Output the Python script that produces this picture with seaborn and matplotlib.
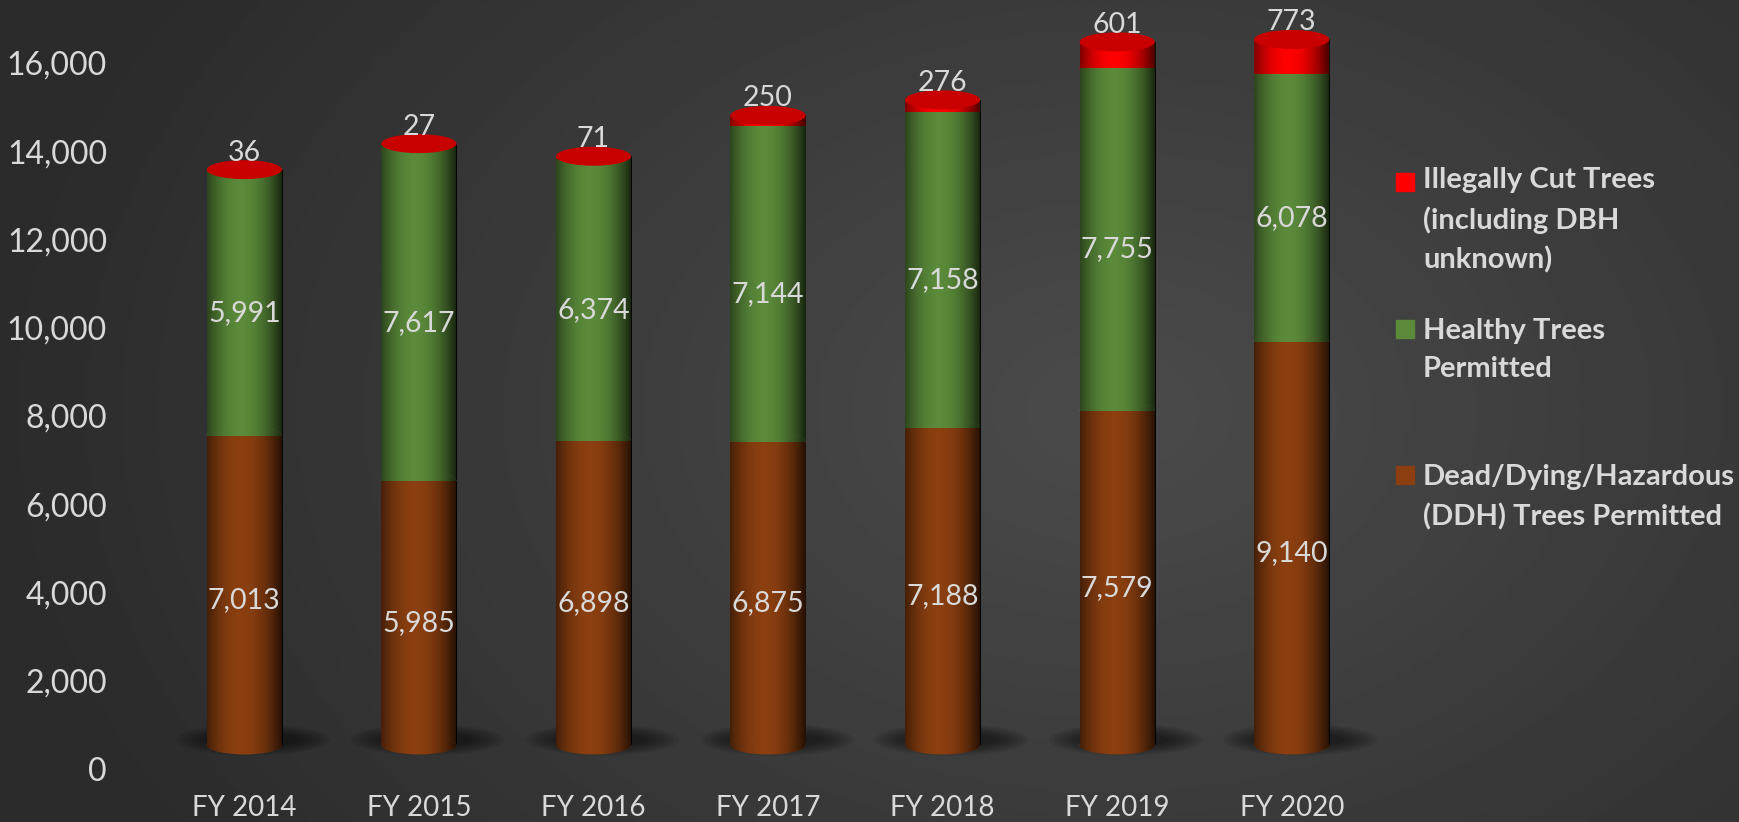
import matplotlib.pyplot as plt
import matplotlib.patches as mpatches
from matplotlib.transforms import ScaledTranslation
import numpy as np
import pandas as pd
import seaborn as sns

# data
years = ['FY 2014', 'FY 2015', 'FY 2016', 'FY 2017', 'FY 2018', 'FY 2019', 'FY 2020']
ddh = [7013, 5985, 6898, 6875, 7188, 7579, 9140]
healthy = [5991, 7617, 6374, 7144, 7158, 7755, 6078]
illegal = [36, 27, 71, 250, 276, 601, 773]

legend_labels = ['Illegally Cut Trees\n(including DBH\nunknown)',
                 'Healthy Trees\nPermitted',
                 'Dead/Dying/Hazardous\n(DDH) Trees Permitted']
red, green, brown = '#ff0000', '#5a8a3a', '#8b3f10'
cap_red = '#c80000'
txt_col = '#d9d9d9'

df = pd.DataFrame({'year': years, 'ddh': ddh, 'healthy': healthy, 'illegal': illegal})
df['mid'] = df['ddh'] + df['healthy']
df['total'] = df['mid'] + df['illegal']

sns.set_style('dark')
plt.rcParams['font.family'] = ['Lato', 'DejaVu Sans']

fig = plt.figure(figsize=(17.39, 8.22), dpi=100)

# radial gradient background
bg = fig.add_axes([0, 0, 1, 1], zorder=0)
yy, xx = np.mgrid[0:1:300j, 0:1:600j]
r = np.sqrt(((xx - 0.64) * 1.5) ** 2 + ((yy - 0.5) * 1.0) ** 2)
shade = np.clip(0.295 - 0.13 * r, 0.17, 0.295)
bg.imshow(shade, cmap='gray', vmin=0, vmax=1, aspect='auto', extent=(0, 1, 0, 1))
bg.axis('off')

ax = fig.add_axes([0.0903, 0.0645, 0.7027, 0.9125], zorder=1)
ax.patch.set_alpha(0)

# stacked bars = cumulative totals drawn on top of each other
bw = 0.43
sns.barplot(data=df, x='year', y='total', color=red, saturation=1, width=bw, errorbar=None, linewidth=0, ax=ax)
sns.barplot(data=df, x='year', y='mid', color=green, saturation=1, width=bw, errorbar=None, linewidth=0, ax=ax)
sns.barplot(data=df, x='year', y='ddh', color=brown, saturation=1, width=bw, errorbar=None, linewidth=0, ax=ax)

# the 3D bars sit a bit above the axis wall
lift = ax.transData + ScaledTranslation(0, 0.24, fig.dpi_scale_trans)
lab_tr = ax.transData + ScaledTranslation(0, 0.14, fig.dpi_scale_trans)
top_tr = ax.transData + ScaledTranslation(0, 0.41, fig.dpi_scale_trans)

# dark edges to fake a cylinder
t = np.linspace(0, 1, 100)
overlay = np.zeros((1, 100, 4))
overlay[0, :, 3] = np.clip(0.62 * np.abs(2 * t - 0.9) ** 2.0, 0, 0.75)
ell_h = 430


def add_shaded(artist, x0, y0, y1, z):
    artist.set_transform(lift)
    artist.set_zorder(z)
    im = ax.imshow(overlay, extent=(x0, x0 + bw, y0, y1), aspect='auto', zorder=z + 0.05)
    im.set_transform(lift)
    im.set_clip_path(artist)


for k, cont in enumerate(ax.containers):
    for p in cont.patches:
        add_shaded(p, p.get_x(), p.get_y() - 400, p.get_y() + p.get_height() + 400, 2 + k)

for i in range(len(years)):
    # curved bottoms of each segment
    for yv, col, z in [(df['mid'][i], red, 2.6), (ddh[i], green, 3.6), (0, brown, 4.6)]:
        e = mpatches.Ellipse((i, yv), bw, ell_h, color=col, lw=0)
        ax.add_patch(e)
        add_shaded(e, i - bw / 2, yv - ell_h, yv + ell_h, z)
    # top cap
    cap = mpatches.Ellipse((i, df['total'][i]), bw, ell_h, color=cap_red, lw=0)
    ax.add_patch(cap)
    cap.set_transform(lift)
    cap.set_zorder(5.5)
    # soft shadow at the base
    for s in range(8):
        sh = mpatches.Ellipse((i + 0.05, 120), bw * (1.2 + 0.12 * s), 300 + 60 * s,
                              color='black', alpha=0.07, lw=0, zorder=1.5)
        ax.add_patch(sh)
        sh.set_transform(lift)

for i in range(len(years)):
    ax.text(i, ddh[i] / 2, f'{ddh[i]:,}', ha='center', va='center', color=txt_col,
            fontsize=20.5, zorder=10, transform=lab_tr)
    ax.text(i, ddh[i] + healthy[i] / 2, f'{healthy[i]:,}', ha='center', va='center', color=txt_col,
            fontsize=20.5, zorder=10, transform=lab_tr)
    ax.text(i, df['total'][i], f'{illegal[i]:,}', ha='center', va='center', color=txt_col,
            fontsize=20.5, zorder=10, transform=top_tr)

ax.set_ylim(0, 17000)
ax.set_xlim(-0.5, len(years) - 0.5)
ax.set_yticks(range(0, 16001, 2000))
ax.set_yticklabels([f'{v:,}' for v in range(0, 16001, 2000)])
ax.set_xlabel('')
ax.set_ylabel('')
ax.tick_params(axis='y', length=0, pad=36, labelsize=23, colors=txt_col)
ax.tick_params(axis='x', length=0, pad=19, labelsize=20, colors=txt_col)
ax.grid(False)
for s in ax.spines.values():
    s.set_visible(False)

# legend drawn by hand, markers sit on the first line like in the original
W, H = 1739, 822
sq_tops = [173, 320, 466]
txt_tops = [172, 323, 469]
for lab, col, sq, top in zip(legend_labels, [red, green, brown], sq_tops, txt_tops):
    fig.patches.append(mpatches.Rectangle((1396 / W, 1 - (sq + 18) / H), 18 / W, 18 / H,
                                          color=col, transform=fig.transFigure, figure=fig))
    fig.text(1423 / W, 1 - (top - 5) / H, lab, color=txt_col, fontsize=21, fontweight='bold',
             va='top', ha='left', linespacing=1.58)

fig.savefig('out.png', dpi=100)
